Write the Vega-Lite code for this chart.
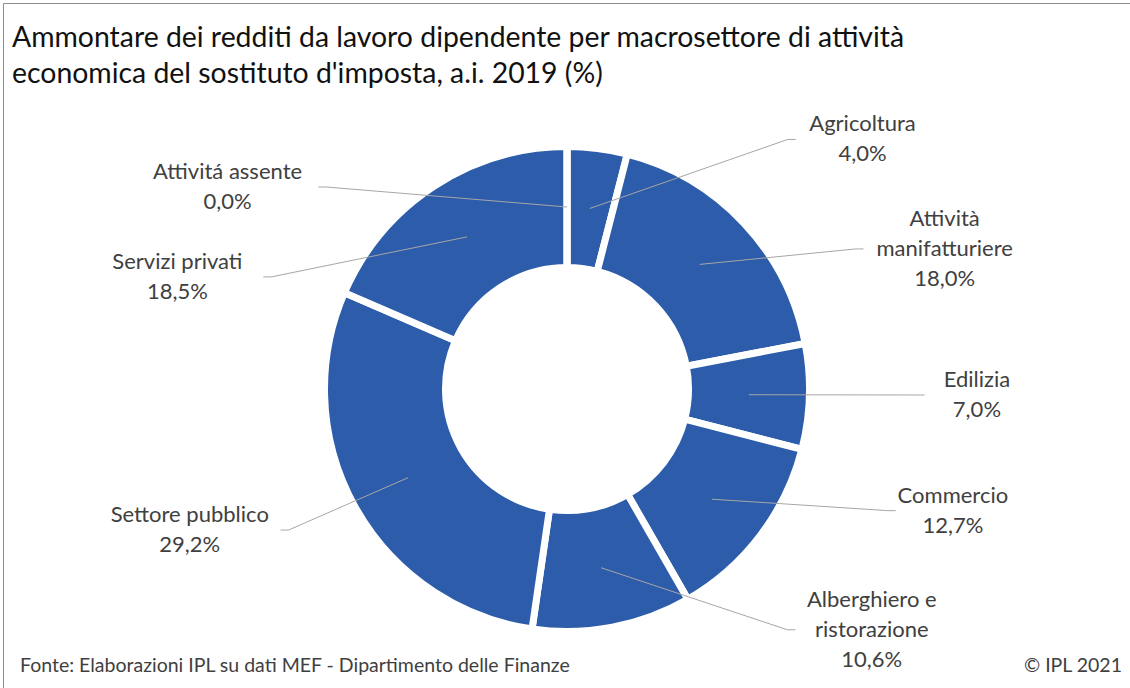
{
  "$schema": "https://vega.github.io/schema/vega-lite/v6.json",
  "autosize": {"type": "none"},
  "padding": {"left": 3, "top": 3, "right": 0, "bottom": 0},
  "width": 1130,
  "height": 690,
  "background": "white",
  "config": {
    "view": {"stroke": "#8c8c8c", "strokeWidth": 1},
    "font": "Lato"
  },
  "title": {
    "text": ["Ammontare dei redditi da lavoro dipendente per macrosettore di attività", "economica del sostituto d'imposta, a.i. 2019 (%)"],
    "anchor": "start",
    "frame": "group",
    "orient": "top",
    "offset": -86,
    "dx": 9,
    "font": "Lato",
    "fontSize": 28.4,
    "fontWeight": "normal",
    "lineHeight": 36,
    "color": "#111111"
  },
  "data": {
    "values": [
      {"settore": "Agricoltura", "valore": 4.0},
      {"settore": "Attività manifatturiere", "valore": 18.0},
      {"settore": "Edilizia", "valore": 7.0},
      {"settore": "Commercio", "valore": 12.7},
      {"settore": "Alberghiero e ristorazione", "valore": 10.6},
      {"settore": "Settore pubblico", "valore": 29.2},
      {"settore": "Servizi privati", "valore": 18.5},
      {"settore": "Attivitá assente", "valore": 0.0}
    ]
  },
  "transform": [
    {"window": [{"op": "row_number", "as": "idx"}, {"op": "sum", "field": "valore", "as": "cum"}], "frame": [null, 0]},
    {"calculate": "datum.cum - datum.valore / 2", "as": "mid"},
    {"calculate": "datum.mid / 100 * 2 * PI", "as": "am"},
    {"calculate": "datum.mid < 50 ? 25 + (datum.mid - 25) * 0.53 : 75 + (datum.mid - 80.25) * 0.48", "as": "lp"},
    {"calculate": "datum.lp / 100 * 2 * PI", "as": "al"},
    {"calculate": "sin(datum.al) >= 0 ? 1 : -1", "as": "side"},
    {"calculate": "410 * sin(datum.al)", "as": "lx"},
    {"calculate": "360 * cos(datum.al)", "as": "ly"},
    {"calculate": "length(datum.settore) > 20 ? substring(datum.settore, 0, lastindexof(datum.settore, ' ')) + '\\n' + substring(datum.settore, lastindexof(datum.settore, ' ') + 1) : datum.settore", "as": "nome"},
    {"calculate": "length(datum.settore) > 20 ? max(lastindexof(datum.settore, ' '), length(datum.settore) - lastindexof(datum.settore, ' ') - 1) : length(datum.settore)", "as": "nchar"},
    {"calculate": "datum.nome + '\\n' + replace(format(datum.valore, '.1f'), '.', ',') + '%'", "as": "etichetta"},
    {"calculate": "length(split(datum.etichetta, '\\n'))", "as": "nrighe"},
    {"calculate": "datum.ly + (datum.nrighe - 1) * 15", "as": "ty"},
    {"calculate": "datum.lx - datum.side * (datum.nchar * 9.6 / 2 + 14)", "as": "ex"},
    {"calculate": "datum.ex - datum.side * 8", "as": "bx"},
    {"calculate": "182 * sin(datum.am)", "as": "sx"},
    {"calculate": "182 * cos(datum.am)", "as": "sy"}
  ],
  "layer": [
    {
      "mark": {"type": "arc", "outerRadius": 242.5, "innerRadius": 121.5, "stroke": "white", "strokeWidth": 7, "color": "#2D5DAA"},
      "encoding": {
        "theta": {"field": "valore", "type": "quantitative", "stack": true},
        "order": {"field": "idx", "type": "quantitative"},
        "x": {"datum": 0, "type": "quantitative", "scale": {"domain": [-564, 566], "nice": false, "zero": false}, "axis": null},
        "y": {"datum": 0, "type": "quantitative", "scale": {"domain": [-304, 386], "nice": false, "zero": false}, "axis": null}
      }
    },
    {
      "mark": {"type": "rule", "color": "#A6A6A6", "strokeWidth": 1},
      "encoding": {
        "x": {"field": "sx", "type": "quantitative", "scale": {"domain": [-564, 566], "nice": false, "zero": false}, "axis": null},
        "y": {"field": "sy", "type": "quantitative", "scale": {"domain": [-304, 386], "nice": false, "zero": false}, "axis": null},
        "x2": {"field": "bx"},
        "y2": {"field": "ly"}
      }
    },
    {
      "mark": {"type": "rule", "color": "#A6A6A6", "strokeWidth": 1},
      "encoding": {
        "x": {"field": "bx", "type": "quantitative", "scale": {"domain": [-564, 566], "nice": false, "zero": false}, "axis": null},
        "y": {"field": "ly", "type": "quantitative", "scale": {"domain": [-304, 386], "nice": false, "zero": false}, "axis": null},
        "x2": {"field": "ex"}
      }
    },
    {
      "mark": {"type": "text", "align": "center", "baseline": "middle", "font": "Lato", "fontSize": 22, "lineHeight": 30, "lineBreak": "\n", "color": "#404040"},
      "encoding": {
        "x": {"field": "lx", "type": "quantitative", "scale": {"domain": [-564, 566], "nice": false, "zero": false}, "axis": null},
        "y": {"field": "ty", "type": "quantitative", "scale": {"domain": [-304, 386], "nice": false, "zero": false}, "axis": null},
        "text": {"field": "etichetta"}
      }
    },
    {
      "data": {"values": [{"nota": "Fonte: Elaborazioni IPL su dati MEF - Dipartimento delle Finanze"}]},
      "mark": {"type": "text", "align": "left", "baseline": "alphabetic", "font": "Lato", "fontSize": 19.5, "color": "#404040", "x": 17, "y": 669},
      "encoding": {"text": {"field": "nota"}}
    },
    {
      "data": {"values": [{"nota": "© IPL 2021"}]},
      "mark": {"type": "text", "align": "right", "baseline": "alphabetic", "font": "Lato", "fontSize": 19.5, "color": "#404040", "x": 1119, "y": 669},
      "encoding": {"text": {"field": "nota"}}
    }
  ]
}
